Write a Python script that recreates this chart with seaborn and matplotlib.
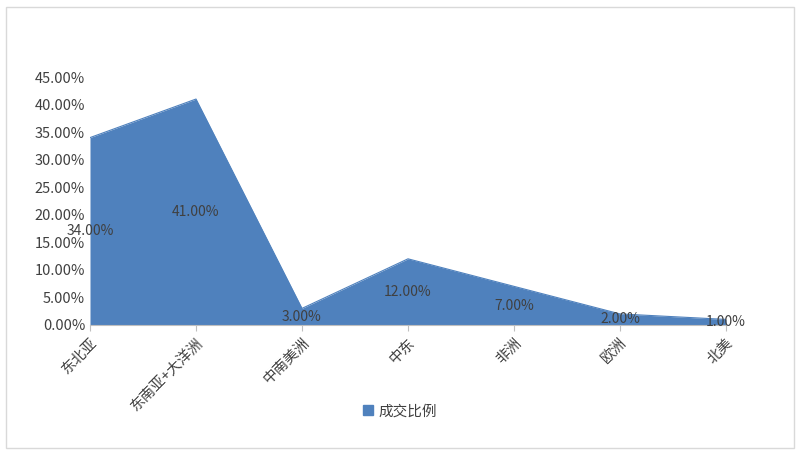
import matplotlib
matplotlib.use("Agg")
import matplotlib.pyplot as plt
import seaborn as sns
import pandas as pd
import numpy as np
from matplotlib.patches import Patch

categories = ["东北亚", "东南亚+大洋洲", "中南美洲", "中东", "非洲", "欧洲", "北美"]
values = [0.34, 0.41, 0.03, 0.12, 0.07, 0.02, 0.01]
series_name = "成交比例"

sns.set_style("white")
plt.rcParams['font.family'] = ['Noto Sans CJK SC', 'DejaVu Sans']

color = "#4F81BD"
fig = plt.figure(figsize=(8, 4.57), dpi=100)
ax = fig.add_axes([0.1125, 0.289, 0.795, 0.5425])
df = pd.DataFrame({"x": np.arange(len(categories)), "y": values})
sns.lineplot(data=df, x="x", y="y", ax=ax, color=color, linewidth=0.8)
ax.fill_between(df["x"], 0, df["y"], color=color, linewidth=0)
for xi, v in zip(df["x"], values):
    ax.text(xi, v / 2, f"{v*100:.2f}%", ha="center", va="center", fontsize=10, color="#404040")
ax.set_xlim(0, len(categories) - 1)
ax.set_ylim(0, 0.45)
ax.set_yticks(np.arange(0, 0.451, 0.05))
ax.set_yticklabels([f"{t*100:.2f}%" for t in np.arange(0, 0.451, 0.05)], fontsize=10.5, color="#404040")
ax.set_xticks(df["x"])
ax.set_xticklabels(categories, rotation=45, ha="right", rotation_mode="anchor", fontsize=10.5, color="#404040")
ax.tick_params(axis="x", length=4, color="#bfbfbf", bottom=True)
ax.tick_params(axis="y", length=0)
ax.set_xlabel("")
ax.set_ylabel("")
for s in ["top", "right", "left"]:
    ax.spines[s].set_visible(False)
ax.spines["bottom"].set_color("#bfbfbf")
fig.legend(handles=[Patch(color=color, label=series_name)], loc="center", bbox_to_anchor=(0.5, 0.1),
           frameon=False, fontsize=10.5, handlelength=0.7, handleheight=0.7, handletextpad=0.4,
           labelcolor="#404040")
fig.patches.append(plt.Rectangle((0.008, 0.02), 0.984, 0.965, transform=fig.transFigure,
                                 fill=False, edgecolor="#d9d9d9", linewidth=1))
fig.savefig("out.png", dpi=100)
